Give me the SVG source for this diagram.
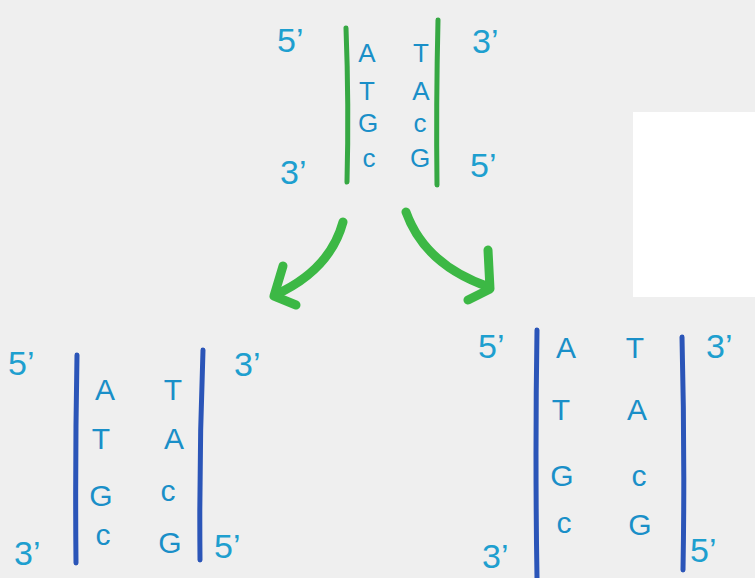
<svg xmlns="http://www.w3.org/2000/svg" width="755" height="578" viewBox="0 0 755 578">
<defs>
<style>
.end{font-family:"Liberation Sans",Arial,sans-serif;font-size:34px;fill:#1e9fcf;}
.base{font-family:"Liberation Sans",Arial,sans-serif;font-size:30px;fill:#1a8fc8;text-anchor:middle;}
.sm{font-size:26px;}
.g{stroke:#36a843;stroke-width:5;stroke-linecap:round;fill:none;}
.b{stroke:#2b55b8;stroke-width:5;stroke-linecap:round;fill:none;}
.arr{stroke:#3cb845;stroke-width:9;stroke-linecap:round;stroke-linejoin:round;fill:none;}
</style>
</defs>
<rect width="755" height="578" fill="#efefef"/>
<rect x="633" y="112" width="122" height="185" fill="#ffffff"/>

<g id="parent">
<path class="g" d="M346,28 Q349,105 347,182"/>
<path class="g" d="M438,20 Q436,105 437,185"/>
<text class="end" x="277" y="52">5’</text>
<text class="end" x="472" y="53">3’</text>
<text class="end" x="280" y="184">3’</text>
<text class="end" x="470" y="177">5’</text>
<text class="base sm" x="367" y="62">A</text>
<text class="base sm" x="421" y="62">T</text>
<text class="base sm" x="367" y="100">T</text>
<text class="base sm" x="421" y="100">A</text>
<text class="base sm" x="368" y="132">G</text>
<text class="base sm" x="420" y="132">c</text>
<text class="base sm" x="369" y="167">c</text>
<text class="base sm" x="420" y="167">G</text>
</g>

<g id="daughter-left">
<path class="b" d="M77,355 Q75,460 76,563"/>
<path class="b" d="M203,350 Q199,455 200,560"/>
<text class="end" x="8" y="375">5’</text>
<text class="end" x="234" y="376">3’</text>
<text class="end" x="14" y="565">3’</text>
<text class="end" x="214" y="558">5’</text>
<text class="base" x="105" y="400">A</text>
<text class="base" x="173" y="400">T</text>
<text class="base" x="101" y="449">T</text>
<text class="base" x="174" y="449">A</text>
<text class="base" x="101" y="506">G</text>
<text class="base" x="168" y="501">c</text>
<text class="base" x="103" y="545">c</text>
<text class="base" x="170" y="553">G</text>
</g>

<g id="daughter-right">
<path class="b" d="M537,330 Q535,455 537,578"/>
<path class="b" d="M682,337 Q685,455 683,570"/>
<text class="end" x="478" y="358">5’</text>
<text class="end" x="706" y="358">3’</text>
<text class="end" x="482" y="568">3’</text>
<text class="end" x="690" y="562">5’</text>
<text class="base" x="566" y="358">A</text>
<text class="base" x="635" y="358">T</text>
<text class="base" x="561" y="420">T</text>
<text class="base" x="637" y="420">A</text>
<text class="base" x="562" y="486">G</text>
<text class="base" x="639" y="486">c</text>
<text class="base" x="564" y="533">c</text>
<text class="base" x="640" y="535">G</text>
</g>

<g id="connectors">
<path class="arr" d="M343,222 Q330,270 275,295"/>
<path class="arr" d="M283,266 L274,296 L296,305"/>
<path class="arr" d="M406,212 Q425,265 489,287"/>
<path class="arr" d="M488,250 L490,289 L468,300"/>
</g>
</svg>
